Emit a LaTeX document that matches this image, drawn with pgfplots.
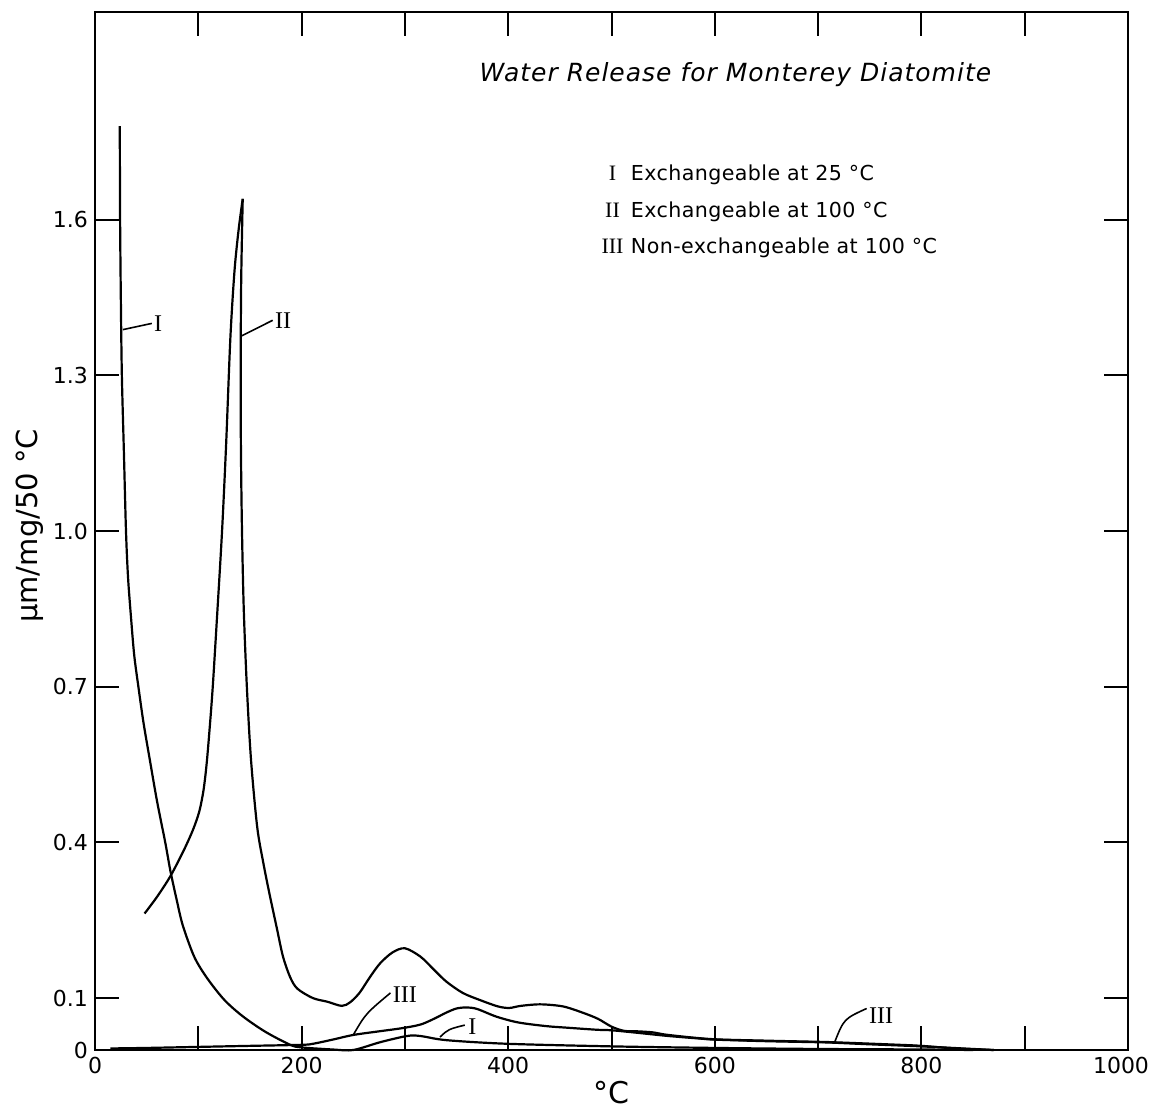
\documentclass[border=0pt]{standalone}
\usepackage{fontspec}
\setmainfont{DejaVu Sans}
\newfontfamily\romfont{Liberation Serif}
\newfontfamily\medsans[LetterSpace=4]{DejaVu Sans}
\newfontfamily\keysans[LetterSpace=2]{DejaVu Sans}
\usepackage{pgfplots}
\pgfplotsset{compat=1.18}

\begin{document}
\begin{tikzpicture}
\begin{axis}[
  scale only axis, width=516.5pt, height=519pt,
  xmin=0, xmax=1000, ymin=0, ymax=2.0,
  xtick={0,100,...,1000}, xticklabels={0,,200,,400,,600,,800,,{\hspace*{-7pt}1000}},
  ytick={0,0.1,0.4,0.7,1.0,1.3,1.6}, yticklabels={0,0.1,0.4,0.7,1.0,1.3,1.6},
  tick align=inside, major tick length=12pt,
  tick style={line width=1pt, black},
  axis line style={line width=1pt},
  ticklabel style={font=\fontsize{11}{13}\selectfont},
  /pgf/number format/assume math mode=true,
  xlabel={°C}, ylabel={μm/mg/50 °C},
  xlabel style={font=\fontsize{15}{17}\selectfont, yshift=3pt},
  ylabel style={font=\fontsize{14.5}{16}\selectfont, at={(axis description cs:-0.063,0.505)}, anchor=center},
  clip=false,
]
% Curve I
\addplot[black, line width=1.1pt, smooth, tension=0.5] coordinates {
(24,1.78) (24.3,1.6) (25,1.45) (26,1.3) (28,1.15) (30,1.0) (32,0.91)
(35,0.83) (38,0.76) (42,0.7) (47,0.63) (53,0.56) (60,0.48) (68,0.4)
(73,0.345) (79,0.29) (85,0.24) (96,0.18) (108,0.14) (125,0.097)
(143,0.065) (165,0.035) (189,0.01) (200,0.005) (230,0.001) (250,0.0)
(276,0.015) (302,0.027) (315,0.027) (340,0.019) (399,0.012) (500,0.007)
(600,0.004) (700,0.002) (800,0.001) (850,0)};
% Curve II (rising branch)
\addplot[black, line width=1.1pt, smooth, tension=0.5] coordinates {
(48,0.263) (60,0.295) (73,0.335) (86,0.385) (95,0.425) (101,0.46)
(105,0.5) (108,0.55) (111,0.62) (114,0.7) (118,0.83) (123,1.0)
(127,1.17) (131,1.37) (135,1.5) (139,1.58) (143,1.64)};
% Curve II (falling branch)
\addplot[black, line width=1.1pt, smooth, tension=0.5] coordinates {
(143,1.64) (141.5,1.48) (141,1.3) (141.3,1.15) (142.3,1.0) (144,0.85)
(147,0.7) (151,0.56) (157,0.43) (163,0.36) (169,0.30) (176,0.235)
(182,0.18) (189,0.14) (196,0.118) (211,0.10) (225,0.093) (239,0.085)
(247,0.092) (256,0.11) (266,0.14) (276,0.167) (288,0.188) (300,0.196)
(315,0.18) (328,0.155) (340,0.132) (356,0.11) (373,0.096) (390,0.084)
(401,0.081) (412,0.085) (431,0.088) (453,0.084) (472,0.072) (487,0.06)
(500,0.045) (512,0.037) (525,0.036) (540,0.034) (555,0.029) (597,0.021)
(650,0.018) (695,0.016) (714,0.015) (779,0.01) (800,0.008) (833,0.003)
(870,0)};
% Curve III
\addplot[black, line width=1.1pt, smooth, tension=0.5] coordinates {
(15,0.003) (50,0.004) (100,0.006) (150,0.008) (200,0.01) (211,0.012)
(230,0.02) (250,0.029) (275,0.036) (297,0.042) (315,0.049) (328,0.06)
(340,0.072) (350,0.08) (360,0.082) (370,0.079) (389,0.064) (410,0.053)
(437,0.046) (457,0.043) (486,0.039) (500,0.038) (521,0.034) (555,0.027)
(586,0.022) (600,0.02) (650,0.017) (700,0.015) (716,0.014) (750,0.011)
(800,0.007) (850,0.002) (870,0)};

% leaders and curve labels
\draw[line width=0.8pt] (axis cs:27,1.388) -- (axis cs:55,1.40);
\node[anchor=west, inner sep=1pt, font=\romfont\fontsize{12}{14}\selectfont] at (axis cs:55,1.40) {I};
\draw[line width=0.8pt] (axis cs:141,1.375) -- (axis cs:172,1.406);
\node[anchor=west, inner sep=1pt, font=\romfont\fontsize{12}{14}\selectfont] at (axis cs:172,1.406) {II};
\draw[line width=0.8pt] (axis cs:250,0.029) .. controls (axis cs:262,0.07) .. (axis cs:286,0.11);
\node[anchor=west, inner sep=1pt, font=\romfont\fontsize{12}{14}\selectfont] at (axis cs:286,0.106) {III};
\draw[line width=0.8pt] (axis cs:334,0.025) .. controls (axis cs:342,0.04) .. (axis cs:358,0.048);
\node[anchor=west, inner sep=1pt, font=\romfont\fontsize{12}{14}\selectfont] at (axis cs:359,0.045) {I};
\draw[line width=0.8pt] (axis cs:716,0.015) .. controls (axis cs:725,0.06) .. (axis cs:747,0.08);
\node[anchor=west, inner sep=1pt, font=\romfont\fontsize{12}{14}\selectfont] at (axis cs:747,0.066) {III};

% title and key
\node[font=\medsans\itshape\fontsize{12.5}{14}\selectfont] at (axis cs:620,1.88) {Water Release for Monterey Diatomite};
\node[anchor=base, font=\romfont\fontsize{11}{13}\selectfont] at (axis cs:501,1.675) {I};
\node[anchor=base west, font=\keysans\fontsize{10.3}{12}\selectfont] at (axis cs:512,1.675) {Exchangeable at 25 °C};
\node[anchor=base, font=\romfont\fontsize{11}{13}\selectfont] at (axis cs:501,1.605) {II};
\node[anchor=base west, font=\keysans\fontsize{10.3}{12}\selectfont] at (axis cs:512,1.605) {Exchangeable at 100 °C};
\node[anchor=base, font=\romfont\fontsize{11}{13}\selectfont] at (axis cs:501,1.535) {III};
\node[anchor=base west, font=\keysans\fontsize{10.3}{12}\selectfont] at (axis cs:512,1.535) {Non-exchangeable at 100 °C};
\end{axis}
\pgfresetboundingbox
\useasboundingbox (-47.5pt,-32.5pt) rectangle (527.5pt,525pt);
\end{tikzpicture}
\end{document}
